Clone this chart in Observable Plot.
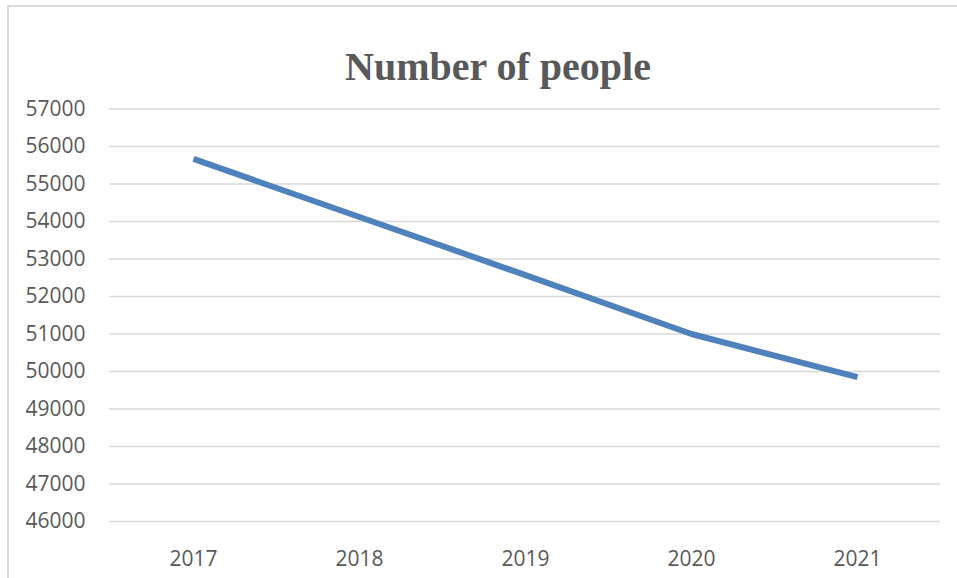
<!DOCTYPE html>
<html>
<head>
<meta charset="utf-8">
<script src="https://cdn.jsdelivr.net/npm/d3@7"></script>
<script src="https://cdn.jsdelivr.net/npm/@observablehq/plot@0.6"></script>
<style>
  html, body { margin: 0; padding: 0; background: #fff; overflow: hidden; }
  #wrap { position: relative; width: 957px; height: 578px; }
  #frame { position: absolute; left: 7px; top: 5px; right: 0; bottom: -2px;
           border-left: 2px solid #d9d9d9; border-top: 2px solid #d9d9d9; }
  #title { position: absolute; left: 0; top: 47px; width: 996px; text-align: center;
           font-family: "Liberation Serif", serif; font-weight: bold; font-size: 40px;
           line-height: 1; color: #595959; white-space: nowrap; }
  #chart { position: absolute; left: 0; top: 0; }
</style>
</head>
<body>
<div id="wrap">
  <div id="frame"></div>
  <div id="chart"></div>
  <div id="title">Number of people</div>
</div>
<script>
const years = ["2017", "2018", "2019", "2020", "2021"];
const people = [55670, 54120, 52570, 51000, 49850];
const yTicks = [46000, 47000, 48000, 49000, 50000, 51000, 52000, 53000, 54000, 55000, 56000, 57000];

const data = years.map((y, i) => ({year: y, value: people[i]}));

const chart = Plot.plot({
  width: 957,
  height: 578,
  marginTop: 108.5,
  marginBottom: 57,
  marginLeft: 109,
  marginRight: 17,
  style: {fontFamily: "'Open Sans', sans-serif", fontSize: "21px", color: "#595959", background: "transparent"},
  x: {type: "point", domain: years, padding: 0.5},
  y: {domain: [46000, 57000]},
  marks: [
    Plot.gridY(yTicks, {stroke: "#d9d9d9", strokeOpacity: 1, strokeWidth: 1.6}),
    Plot.axisY(yTicks, {tickSize: 0, tickPadding: 24, tickFormat: d => String(d), label: null}),
    Plot.axisX({tickSize: 0, tickPadding: 30, label: null}),
    Plot.line(data, {x: "year", y: "value", stroke: "#4f81bd", strokeWidth: 6, strokeLinecap: "butt", strokeLinejoin: "round"})
  ]
});
document.getElementById("chart").appendChild(chart);
</script>
</body>
</html>
